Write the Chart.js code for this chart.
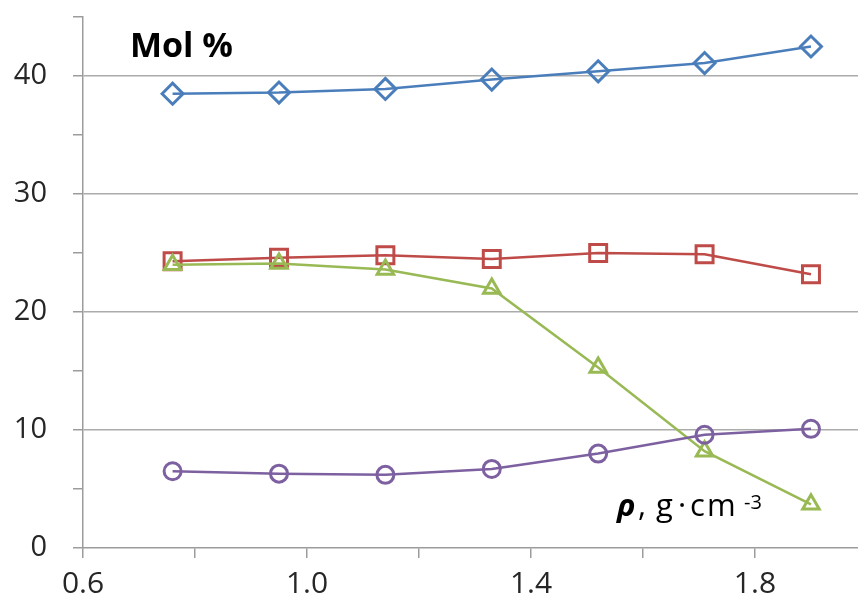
<!DOCTYPE html>
<html>
<head>
<meta charset="utf-8">
<script src="https://cdn.jsdelivr.net/npm/chart.js@4.4.0/dist/chart.umd.min.js"></script>
<style>
    html, body { margin: 0; padding: 0; background: #fff; overflow: hidden; }
    #wrap { width: 858px; height: 609px; }
</style>
</head>
<body>
<div id="wrap"><canvas id="mol_chart" width="858" height="609"></canvas></div>
<script>
/* --------------------- Данные --------------------- */

var density = [0.76, 0.95, 1.14, 1.33, 1.52, 1.71, 1.90];

var mol_blue   = [38.5, 38.6, 38.9, 39.7, 40.4, 41.1, 42.5];
var mol_red    = [24.3, 24.6, 24.8, 24.5, 25.0, 24.9, 23.2];
var mol_green  = [24.0, 24.1, 23.6, 22.0, 15.3, 8.2, 3.7];
var mol_purple = [6.5, 6.3, 6.2, 6.7, 8.0, 9.6, 10.1];

var x_labels = [0.6, 1.0, 1.4, 1.8];
var y_labels = [0, 10, 20, 30, 40];

var axis_color = '#9c9c9c';
var text_color = '#262626';

function points(values) {
    return values.map(function (v, i) {
        return {x: density[i], y: v};
    });
}

function series(values, color, style, radius) {
    return {
        data: points(values),
        showLine: true,
        borderColor: color,
        backgroundColor: 'rgba(255,255,255,0)',
        borderWidth: 2.5,
        pointStyle: style,
        pointRadius: radius,
        pointBorderWidth: 3,
        pointBorderColor: color,
        pointBackgroundColor: 'rgba(255,255,255,0)'
    };
}

// оси не должны сдвигать область графика из-за подписей
function fix_scale(scale) {
    scale.paddingTop = 0;
    scale.paddingBottom = 0;
    scale.paddingLeft = 0;
    scale.paddingRight = 0;
}

/* --------------------- Подписи внутри графика --------------------- */

var inner_text = {
    id: 'inner_text',
    afterDraw: function (chart) {
        var ctx = chart.ctx;
        ctx.save();
        ctx.fillStyle = '#000';
        ctx.textBaseline = 'alphabetic';
        ctx.textAlign = 'left';

        ctx.font = 'bold 34px "Open Sans"';
        ctx.fillText('Mol %', 130, 57);

        ctx.font = 'italic bold 31px "Open Sans"';
        ctx.fillText('ρ', 617, 516);
        ctx.font = '31px "Open Sans"';
        ctx.fillText(',', 638, 516);
        ctx.fillText('g', 656, 516);
        ctx.fillText('·', 678, 516);
        ctx.fillText('c', 690, 516);
        ctx.fillText('m', 707, 516);
        ctx.font = '20px "Open Sans"';
        ctx.fillText('-3', 744, 509);
        ctx.restore();
    }
};

/* --------------------- График --------------------- */

var ctx = document.getElementById('mol_chart').getContext('2d');
var chart = new Chart(ctx, {
    type: 'scatter',
    data: {
        datasets: [
            series(mol_purple, '#7d60a0', 'circle', 8.5),
            series(mol_green, '#98b954', 'triangle', 9.5),
            series(mol_red, '#be4b48', 'rect', 12),
            series(mol_blue, '#4a7ebb', 'rectRot', 10.5)
        ]
    },
    plugins: [inner_text],
    options: {
        responsive: false,
        animation: false,
        layout: {
            autoPadding: false,
            padding: {top: 17, right: 0, left: 0, bottom: 0}
        },
        plugins: {
            legend: {display: false},
            tooltip: {enabled: false}
        },
        scales: {
            x: {
                type: 'linear',
                min: 0.6,
                max: 1.984,
                afterFit: function (scale) {
                    scale.height = 61;
                    fix_scale(scale);
                },
                border: {color: axis_color, width: 1.5},
                grid: {
                    drawOnChartArea: false,
                    color: axis_color,
                    tickLength: 10,
                    lineWidth: 1.5
                },
                ticks: {
                    stepSize: 0.2,
                    includeBounds: false,
                    autoSkip: false,
                    maxRotation: 0,
                    padding: 8,
                    color: text_color,
                    font: {family: 'Open Sans', size: 30},
                    callback: function (v) {
                        var r = Math.round(v * 10) / 10;
                        return x_labels.indexOf(r) != -1 ? r.toFixed(1) : '';
                    }
                }
            },
            y: {
                min: 0,
                max: 45,
                afterFit: function (scale) {
                    scale.width = 83;
                    fix_scale(scale);
                },
                border: {color: axis_color, width: 1.5},
                grid: {
                    color: function (c) {
                        var v = c.tick ? c.tick.value : 0;
                        return (v > 0 && y_labels.indexOf(v) != -1) ? '#ababab' : 'rgba(0,0,0,0)';
                    },
                    tickColor: axis_color,
                    tickLength: 10,
                    lineWidth: 1.5
                },
                ticks: {
                    stepSize: 5,
                    autoSkip: false,
                    padding: 26,
                    color: text_color,
                    font: {family: 'Open Sans', size: 29},
                    callback: function (v) {
                        return y_labels.indexOf(v) != -1 ? String(v) : '';
                    }
                }
            }
        }
    }
});
</script>
</body>
</html>
